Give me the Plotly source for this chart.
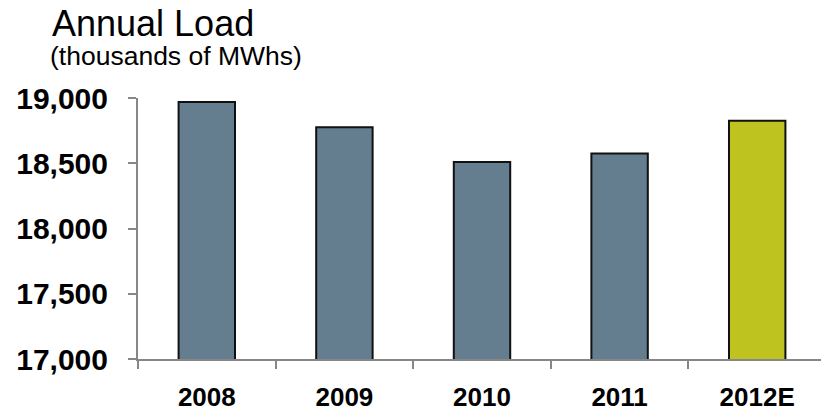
import plotly.graph_objects as go

categories = ["2008", "2009", "2010", "2011", "2012E"]
values = [18970, 18775, 18510, 18575, 18825]
bar_colors = ["#647D8F", "#647D8F", "#647D8F", "#647D8F", "#BFC31F"]
y_ticks = [17000, 17500, 18000, 18500, 19000]
y_tick_labels = ["17,000", "17,500", "18,000", "18,500", "19,000"]

W, H = 821, 412
ML, MR, MT, MB = 138, 0, 97.5, 53
PW = W - ML - MR
PH = H - MT - MB

def px_x(px):
    return (px - ML) / PW

def px_y(py):
    return (H - MB - py) / PH

fig = go.Figure(go.Bar(
    x=categories,
    y=values,
    width=0.41,
    marker=dict(color=bar_colors, line=dict(color="#111111", width=2)),
))

fig.update_layout(
    width=W, height=H,
    margin=dict(l=ML, r=MR, t=MT, b=MB, pad=0),
    paper_bgcolor="white", plot_bgcolor="white",
    showlegend=False,
    font=dict(family="Liberation Sans, Arial, sans-serif", color="#000000"),
    xaxis=dict(
        type="category",
        range=[-0.5, 4.5 - 5 / 137.6],
        showline=True, linecolor="#878787", linewidth=2,
        ticks="outside", tickson="boundaries", ticklen=8, tickwidth=2, tickcolor="#878787",
        tickfont=dict(family="Liberation Sans Narrow, Arial Narrow, Liberation Sans, sans-serif",
                      size=26, color="#000000", weight="bold"),
        ticklabelstandoff=14,
        showgrid=False, zeroline=False, fixedrange=True, automargin=False,
    ),
    yaxis=dict(
        range=[17000, 19000],
        tickvals=y_ticks, ticktext=y_tick_labels,
        showline=True, linecolor="#878787", linewidth=2,
        ticks="outside", ticklen=8, tickwidth=2, tickcolor="#878787",
        tickfont=dict(family="Liberation Sans, Arial, sans-serif", size=30,
                      color="#000000", weight="bold"),
        ticklabelstandoff=14,
        showgrid=False, zeroline=False, fixedrange=True, automargin=False,
    ),
    annotations=[
        dict(text="Annual Load", xref="paper", yref="paper",
             x=px_x(50), y=px_y(23), xanchor="left", yanchor="middle",
             showarrow=False, font=dict(size=36, color="#000000")),
        dict(text="(thousands of MWhs)", xref="paper", yref="paper",
             x=px_x(48), y=px_y(55), xanchor="left", yanchor="middle",
             showarrow=False, font=dict(size=26.5, color="#000000")),
    ],
)

fig.write_html("out.html", config={"displayModeBar": False},
               post_script="document.body.style.margin='0';")
